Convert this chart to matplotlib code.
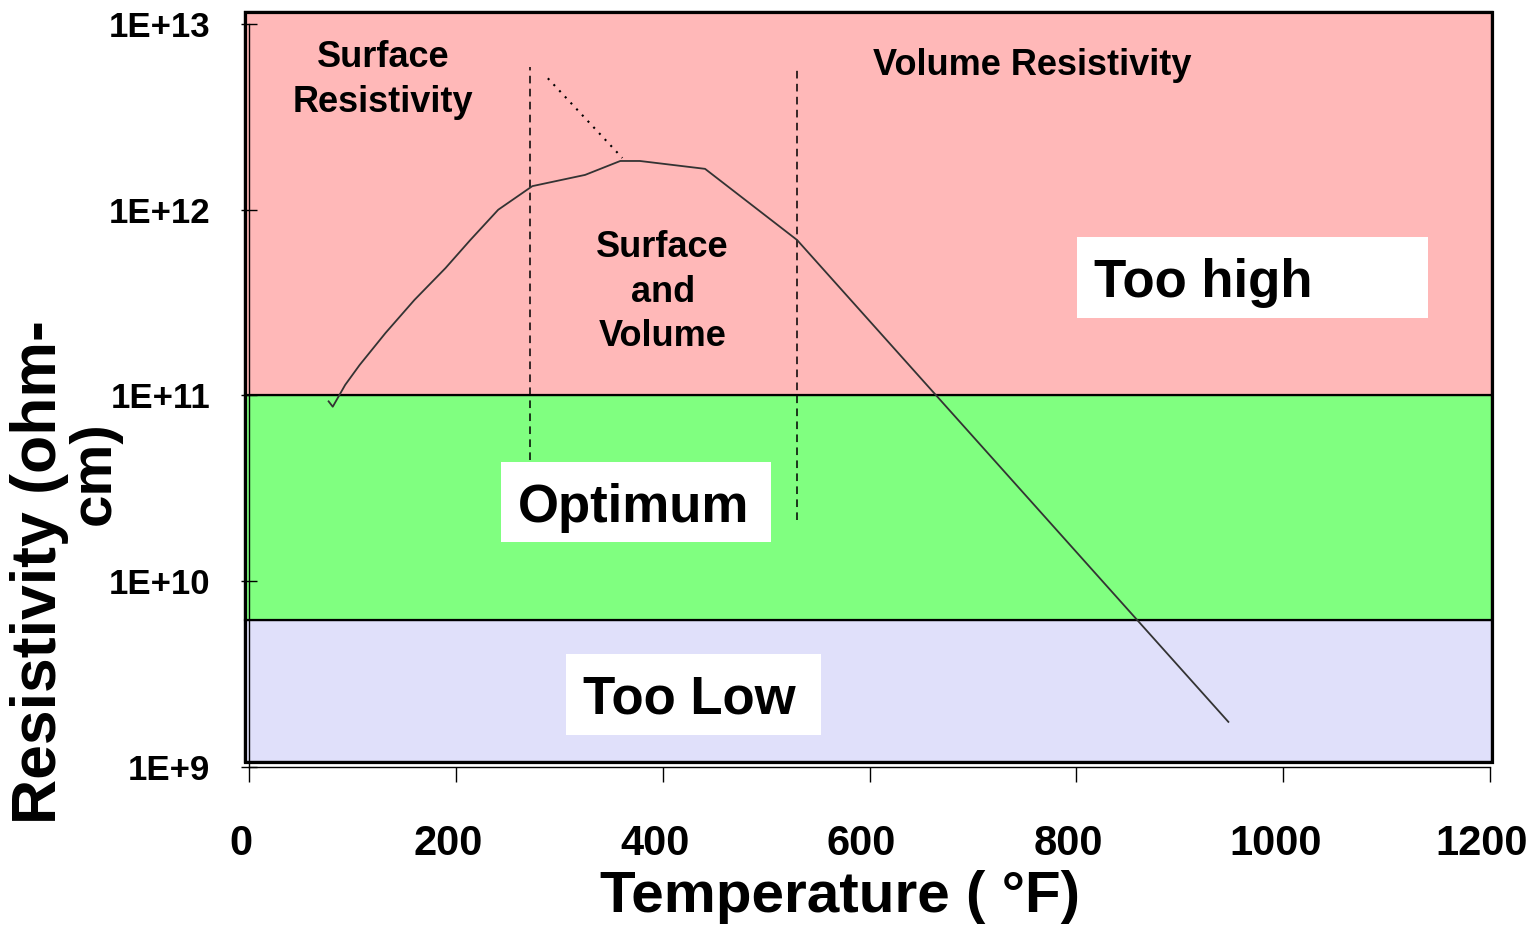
import matplotlib
matplotlib.use('Agg')
import matplotlib.pyplot as plt
from matplotlib.patches import Rectangle
from matplotlib.transforms import ScaledTranslation

# Resistivity curve (deg F, ohm-cm)
temp = [77, 81, 93, 107, 132, 160, 190, 214, 241, 274, 325, 359, 378, 441,
        530, 947]
resist = [9.3e10, 8.7e10, 1.14e11, 1.46e11, 2.17e11, 3.27e11, 4.85e11,
          6.87e11, 1.0e12, 1.34e12, 1.54e12, 1.83e12, 1.83e12, 1.66e12,
          6.87e11, 1.75e9]

# Zones: lower / upper edge of each band
band_names = ['Too Low', 'Optimum', 'Too high']
band_lo = [1.06e9, 6.2e9, 1e11]
band_hi = [6.2e9, 1e11, 1.16e13]
band_colors = ['#e0e0fa', '#80ff80', '#ffb8b8']

# Region boundaries
div_x = [272, 530]
div_top = [5.9e12, 5.65e12]
div_bot = [4.5e10, 2.14e10]
dot_x = [289, 361]
dot_y = [5.1e12, 1.9e12]

xticks = [0, 200, 400, 600, 800, 1000, 1200]
yticks = [1e9, 1e10, 1e11, 1e12, 1e13]
ylabels = ['1E+9', '1E+10', '1E+11', '1E+12', '1E+13']

sans = ['Liberation Sans', 'DejaVu Sans']

fig = plt.figure(figsize=(15.35, 9.33), dpi=100)
ax = fig.add_axes([0.1622, 0.1779, 0.8085, 0.7964])
ax.set_yscale('log')
ax.set_xlim(0, 1200)
ax.set_ylim(1e9, 1e13)

# Coloured bands
x0, x1 = -4, 1202
for lo, hi, c in zip(band_lo, band_hi, band_colors):
    ax.add_patch(Rectangle((x0, lo), x1 - x0, hi - lo, facecolor=c,
                           edgecolor='black', lw=1.6, clip_on=False, zorder=0))
ax.add_patch(Rectangle((x0, band_lo[0]), x1 - x0, band_hi[-1] - band_lo[0],
                       facecolor='none', edgecolor='black', lw=2.3,
                       clip_on=False, zorder=1))

# Labels in white boxes
boxes = {'Too high': ((800.6, 2.61e11), (1140, 7.13e11), 923, 3.39e11),
         'Optimum': ((243.7, 1.63e10), (504.8, 4.39e10), 372, 2.08e10),
         'Too Low': ((306.5, 1.49e9), (553, 4.06e9), 426, 1.95e9)}
for name in band_names:
    (bx0, by0), (bx1, by1), tx, ty = boxes[name]
    ax.add_patch(Rectangle((bx0, by0), bx1 - bx0, by1 - by0, facecolor='white',
                           edgecolor='none', zorder=2))
    ax.text(tx, ty, name, ha='center', va='baseline', fontsize=38,
            fontweight='bold', family=sans, zorder=3)

# Dividers
for x, top, bot in zip(div_x, div_top, div_bot):
    ax.plot([x, x], [bot, top], color='black', lw=1.1, ls=(0, (5, 3.5)),
            zorder=4)
ax.plot(dot_x, dot_y, color='black', lw=1.5, ls=(0, (1, 3)), zorder=4)

ax.plot(temp, resist, color='#333333', lw=1.3, zorder=5)

txt = dict(ha='center', va='center', fontsize=26, fontweight='bold',
           family=sans, linespacing=1.35, zorder=6)
ax.text(130, 5.0e12, 'Surface\nResistivity', **txt)
ax.text(757, 6.0e12, 'Volume Resistivity', **txt)
ax.text(400, 3.6e11, 'Surface\nand\nVolume', **txt)

# Axes
for s in ['top', 'right']:
    ax.spines[s].set_visible(False)
for s in ['left', 'bottom']:
    ax.spines[s].set_linewidth(1.0)
ax.set_xticks(xticks)
ax.set_xticklabels([str(t) for t in xticks], family=sans,
                   fontweight='bold', fontsize=30)
ax.set_yticks(yticks)
ax.set_yticklabels(ylabels, family=sans, fontweight='bold', fontsize=25)
ax.yaxis.set_minor_locator(matplotlib.ticker.NullLocator())
ax.tick_params(axis='x', direction='out', length=11, width=1, pad=30)
ax.tick_params(axis='y', direction='inout', length=12, width=1, pad=22)
shift = ScaledTranslation(-0.08, 0, fig.dpi_scale_trans)
for tick in ax.xaxis.get_major_ticks():
    tick.label1.set_transform(tick.label1.get_transform() + shift)

fig.text(0.5475, 0.039, 'Temperature ( °F)', ha='center', va='center',
         fontsize=42, fontweight='bold', family=sans)
fig.text(0.026, 0.387, 'Resistivity (ohm-', rotation=90, ha='center',
         va='center', fontsize=45, fontweight='bold', family=sans)
fig.text(0.062, 0.493, 'cm)', rotation=90, ha='center', va='center',
         fontsize=42, fontweight='bold', family=sans)

fig.savefig('out.png', dpi=100)
